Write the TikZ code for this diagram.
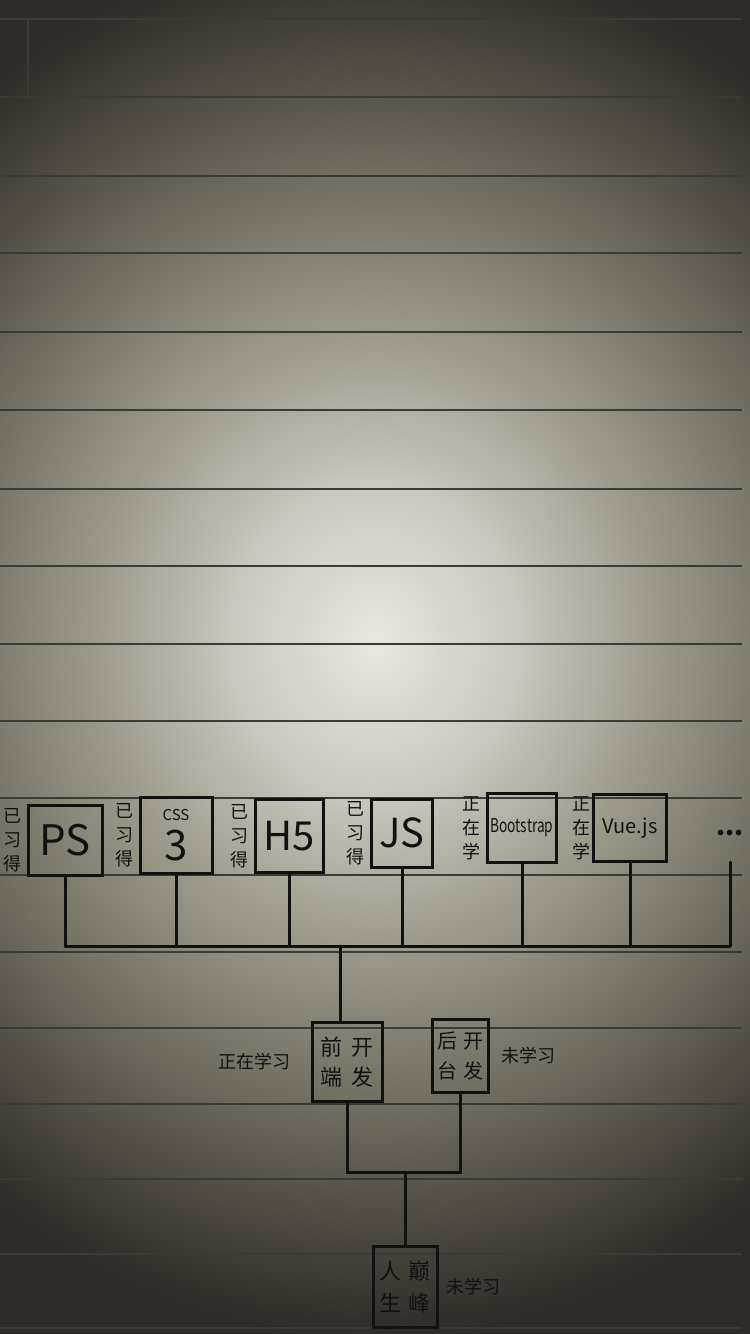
\documentclass[tikz,border=0pt]{standalone}
\usepackage{fontspec}
\newfontfamily\cjk{Noto Sans CJK SC}
\usetikzlibrary{positioning}

\definecolor{ink}{HTML}{121111}
\definecolor{ruling}{HTML}{3C3A35}
\definecolor{paperhi}{HTML}{E8E7E1}
\definecolor{paperlt}{HTML}{C8C6BD}
\definecolor{papermid}{HTML}{9C988A}
\definecolor{paperlo}{HTML}{726E61}
\definecolor{paperdk}{HTML}{45413A}
\definecolor{paperxd}{HTML}{2D2A27}
\pgfdeclareradialshading{paper}{\pgfpoint{0bp}{0bp}}{color(0bp)=(paperhi); color(5.7bp)=(paperlt); color(11bp)=(papermid); color(16.5bp)=(paperlo); color(22bp)=(paperdk); color(25bp)=(paperxd); color(50bp)=(paperxd)}

\begin{document}
\begin{tikzpicture}[
        x=1pt, y=-1pt,
        every node/.style={font=\cjk, text=ink, inner sep=0pt, align=center},
        box/.style={draw=ink, line width=3pt},
        status/.style={font=\cjk\fontsize{18}{24}\selectfont},
        link/.style={draw=ink, line width=3pt, line cap=round},
        ruling/.style={draw=ruling, line width=1.4pt}
    ]

    % Paper
    \useasboundingbox (0,0) rectangle (750,1334);
    \begin{scope}
        \clip (0,0) rectangle (750,1334);
        \shade[shading=paper] (-270,-60) rectangle (1020,1340);
    \end{scope}
    \draw[ruling] (0,19) -- (742,19) (0,97) -- (742,97) (0,176) -- (742,176)
        (0,253) -- (742,253) (0,332) -- (742,332) (0,410) -- (742,410)
        (0,489) -- (742,489) (0,566) -- (742,566) (0,644) -- (742,644)
        (0,721) -- (742,721) (0,798) -- (742,798) (0,875) -- (742,875)
        (0,952) -- (742,952) (0,1028) -- (742,1028) (0,1104) -- (742,1104)
        (0,1179) -- (742,1179) (0,1254) -- (742,1254) (0,1328) -- (742,1328);
    \draw[ruling] (28,19) -- (28,97);

    % Level 1: skills
    \node[box, minimum width=74pt, minimum height=70pt, font=\cjk\fontsize{42}{42}\selectfont] (ps) at (65,840) {PS};
    \node[box, minimum width=72pt, minimum height=76pt, font=\cjk\fontsize{42}{40}\selectfont] (css) at (176,835) {{\fontsize{15}{15}\selectfont CSS}\\3};
    \node[box, minimum width=68pt, minimum height=73pt, font=\cjk\fontsize{40}{40}\selectfont] (h5) at (289,836) {H5};
    \node[box, minimum width=61pt, minimum height=68pt, font=\cjk\fontsize{40}{40}\selectfont] (js) at (402,833) {JS};
    \node[box, minimum width=69pt, minimum height=69pt, font=\cjk\fontsize{19}{19}\selectfont] (bs) at (522,828) {\scalebox{0.72}[1]{Bootstrap}};
    \node[box, minimum width=73pt, minimum height=67pt, font=\cjk\fontsize{20}{20}\selectfont] (vue) at (630,828) {Vue.js};
    \node[minimum height=58pt, font=\cjk\bfseries\fontsize{26}{26}\selectfont] (more) at (730,833) {...};

    % Status of level 1
    \node[status, left=5pt of ps] (psst) {已\\习\\得};
    \node[status, left=5pt of css] (cssst) {已\\习\\得};
    \node[status, left=5pt of h5] (h5st) {已\\习\\得};
    \node[status, left=5pt of js] (jsst) {已\\习\\得};
    \node[status, left=5pt of bs] (bsst) {正\\在\\学};
    \node[status, left=1pt of vue] (vuest) {正\\在\\学};

    % Edges skills -> bus
    \coordinate (bus) at (0,946);
    \draw[link] (ps.south) -- (ps.south |- bus);
    \draw[link] (css.south) -- (css.south |- bus);
    \draw[link] (h5.south) -- (h5.south |- bus);
    \draw[link] (js.south) -- (js.south |- bus);
    \draw[link] (bs.south) -- (bs.south |- bus);
    \draw[link] (vue.south) -- (vue.south |- bus);
    \draw[link] (more.south) -- (more.south |- bus);
    \draw[link] (ps.south |- bus) -- (more.south |- bus);

    % Level 2: front end / back end
    \node[box, minimum width=70pt, minimum height=79pt, font=\cjk\fontsize{22}{30}\selectfont] (front) at (347,1062) {前\hspace{9pt}开\\端\hspace{9pt}发};
    \node[box, minimum width=56pt, minimum height=73pt, font=\cjk\fontsize{20}{30}\selectfont] (back) at (460,1056) {后\hspace{6pt}开\\台\hspace{6pt}发};
    \node[status, left=20pt of front] (frontst) {正在学习};
    \node[status, right=12pt of back] (backst) {未学习};

    \coordinate (hub) at (340,946);
    \draw[link] (hub) -- (hub |- front.north);

    % Level 3: peak
    \node[box, minimum width=64pt, minimum height=81pt, font=\cjk\fontsize{22}{32}\selectfont] (peak) at (405,1287) {人\hspace{8pt}巅\\生\hspace{8pt}峰};
    \node[status, right=8pt of peak] (peakst) {未学习};

    \coordinate (join) at (405,1172);
    \draw[link] (front.south) |- (join) -| (back.south);
    \draw[link] (join) -- (peak.north);

\end{tikzpicture}
\end{document}
